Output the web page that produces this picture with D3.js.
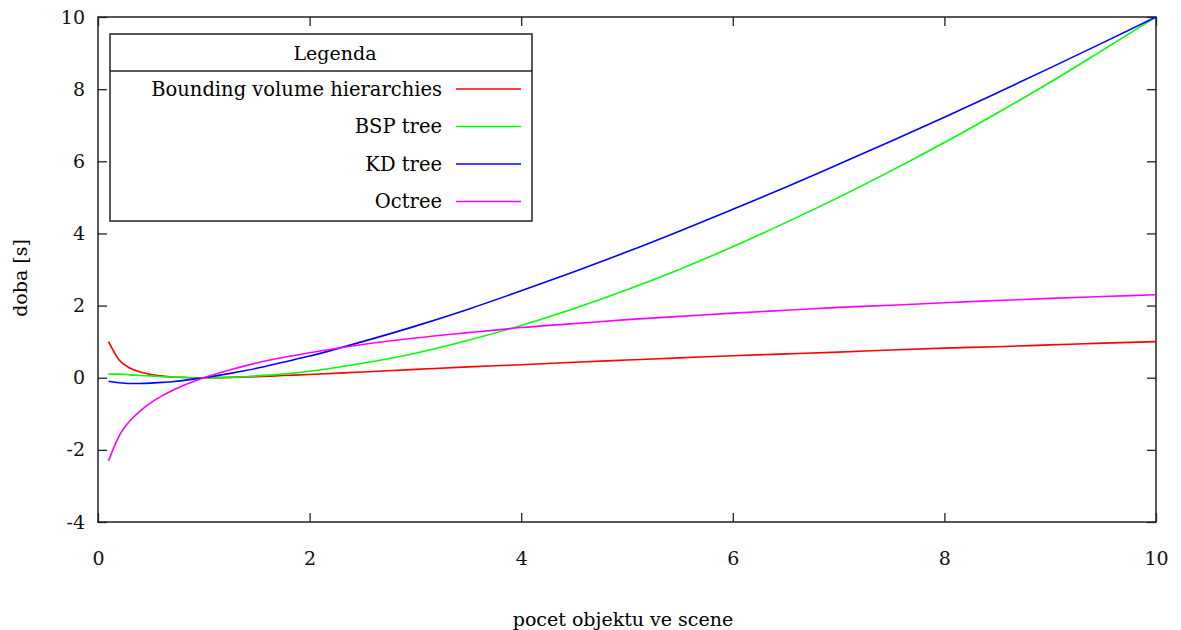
<!DOCTYPE html>
<html>
<head>
<meta charset="utf-8">
<script src="https://cdn.jsdelivr.net/npm/d3@7"></script>
<style>
  body { margin: 0; background: #fff; }
  svg { display: block; font-family: "DejaVu Serif", "Liberation Serif", serif; }
</style>
</head>
<body>
<div id="chart"></div>
<script>
// sample positions along the x axis (pocet objektu ve scene)
const xs = [0.1, 0.2, 0.3, 0.4, 0.5, 0.6, 0.7, 0.8, 0.9, 1, 1.25, 1.5, 1.75, 2, 2.5, 3, 3.5, 4, 4.5, 5, 5.5, 6, 6.5, 7, 7.5, 8, 8.5, 9, 9.5, 10]

const bvh = [1.00, 0.49, 0.27, 0.16, 0.09, 0.05, 0.02, 0.01, 0.00, 0, 0.01, 0.03, 0.06, 0.09, 0.16, 0.23, 0.30, 0.36, 0.43, 0.49, 0.55, 0.61, 0.66, 0.71, 0.77, 0.82, 0.86, 0.91, 0.96, 1.00]
const bsp = [0.10, 0.10, 0.08, 0.06, 0.05, 0.03, 0.02, 0.01, 0.00, 0, 0.01, 0.05, 0.10, 0.18, 0.40, 0.68, 1.04, 1.45, 1.92, 2.44, 3.01, 3.63, 4.30, 5.00, 5.74, 6.52, 7.34, 8.19, 9.09, 10.00]
const kd = [-0.10, -0.14, -0.16, -0.16, -0.15, -0.13, -0.11, -0.08, -0.04, 0, 0.12, 0.26, 0.43, 0.60, 1.00, 1.43, 1.90, 2.41, 2.94, 3.49, 4.07, 4.67, 5.28, 5.92, 6.56, 7.22, 7.90, 8.59, 9.29, 10.00]
const octree = [-2.30, -1.61, -1.20, -0.92, -0.69, -0.51, -0.36, -0.22, -0.11, 0, 0.22, 0.41, 0.56, 0.69, 0.92, 1.10, 1.25, 1.39, 1.50, 1.61, 1.70, 1.79, 1.87, 1.95, 2.01, 2.08, 2.14, 2.20, 2.25, 2.30]

const seriesNames = ["Bounding volume hierarchies", "BSP tree", "KD tree", "Octree"]
const seriesColors = ["#ff0000", "#00ff00", "#0000ff", "#ff00ff"]

const xTicks = [0, 2, 4, 6, 8, 10]
const yTicks = [-4, -2, 0, 2, 4, 6, 8, 10]

const width = 1181
const height = 630
const margin = { top: 17, right: 25, bottom: 108, left: 98 }
const innerWidth = width - margin.left - margin.right
const innerHeight = height - margin.top - margin.bottom
const fontSize = "19px"

const svg = d3.select("#chart")
  .append("svg")
    .attr("width", width)
    .attr("height", height)

const chart = svg.append("g")
  .attr("transform", `translate(${margin.left}, ${margin.top})`)

const xScale = d3.scaleLinear().domain([0, 10]).range([0, innerWidth])
const yScale = d3.scaleLinear().domain([-4, 10]).range([innerHeight, 0])

// gnuplot-like axes: inward ticks, mirrored on top and right
const tickLen = 9
const styleAxis = g => {
  g.attr("font-family", null).attr("font-size", null)
  g.select(".domain").remove()
  g.selectAll("line").attr("stroke", "#222").attr("stroke-width", 1.3)
  g.selectAll("text").attr("fill", "#111").style("font-size", fontSize)
}
const mirrorAxis = g => {
  styleAxis(g)
  g.selectAll("text").remove()
}

chart.append("g")
  .attr("transform", `translate(0, ${innerHeight})`)
  .call(d3.axisBottom(xScale).tickValues(xTicks).tickSize(-tickLen).tickPadding(30).tickFormat(d => String(d)))
  .call(styleAxis)

chart.append("g")
  .call(d3.axisTop(xScale).tickValues(xTicks).tickSize(-tickLen))
  .call(mirrorAxis)

chart.append("g")
  .call(d3.axisLeft(yScale).tickValues(yTicks).tickSize(-tickLen).tickPadding(13).tickFormat(d => String(d)))
  .call(styleAxis)

chart.append("g")
  .attr("transform", `translate(${innerWidth}, 0)`)
  .call(d3.axisRight(yScale).tickValues(yTicks).tickSize(-tickLen))
  .call(mirrorAxis)

chart.append("rect")
  .attr("width", innerWidth)
  .attr("height", innerHeight)
  .attr("fill", "none")
  .attr("stroke", "#222")
  .attr("stroke-width", 1.5)

// curves
const allSeries = [bvh, bsp, kd, octree]
const lineGenerator = d3.line()
  .x((d, i) => xScale(xs[i]))
  .y(d => yScale(d))
  .curve(d3.curveMonotoneX)

chart.selectAll(".curve")
  .data(allSeries)
  .join("path")
    .attr("class", "curve")
    .attr("d", d => lineGenerator(d))
    .attr("fill", "none")
    .attr("stroke", (d, i) => seriesColors[i])
    .attr("stroke-width", 1.6)

// legend
const legend = svg.append("g")
  .attr("transform", "translate(110, 34)")

legend.append("rect")
  .attr("width", 422)
  .attr("height", 187)
  .attr("fill", "#fff")
  .attr("stroke", "#222")
  .attr("stroke-width", 1.5)

legend.append("line")
  .attr("x1", 0).attr("x2", 422)
  .attr("y1", 37).attr("y2", 37)
  .attr("stroke", "#222")
  .attr("stroke-width", 1.5)

legend.append("text")
  .attr("x", 225)
  .attr("y", 19)
  .attr("text-anchor", "middle")
  .attr("dominant-baseline", "central")
  .style("font-size", fontSize)
  .text("Legenda")

const rows = legend.selectAll(".row")
  .data(seriesNames)
  .join("g")
    .attr("class", "row")
    .attr("transform", (d, i) => `translate(0, ${55 + i * 37.5})`)

rows.append("text")
  .attr("x", 332)
  .attr("text-anchor", "end")
  .attr("dominant-baseline", "central")
  .style("font-size", "19.5px")
  .text(d => d)

rows.append("line")
  .attr("x1", 346).attr("x2", 411)
  .attr("stroke", (d, i) => seriesColors[i])
  .attr("stroke-width", 1.6)

// axis titles
svg.append("text")
  .attr("x", margin.left + innerWidth / 2 - 4)
  .attr("y", 626)
  .attr("text-anchor", "middle")
  .style("font-size", fontSize)
  .text("pocet objektu ve scene")

svg.append("text")
  .attr("transform", "translate(27, 278) rotate(-90)")
  .attr("text-anchor", "middle")
  .style("font-size", fontSize)
  .text("doba [s]")
</script>
</body>
</html>
